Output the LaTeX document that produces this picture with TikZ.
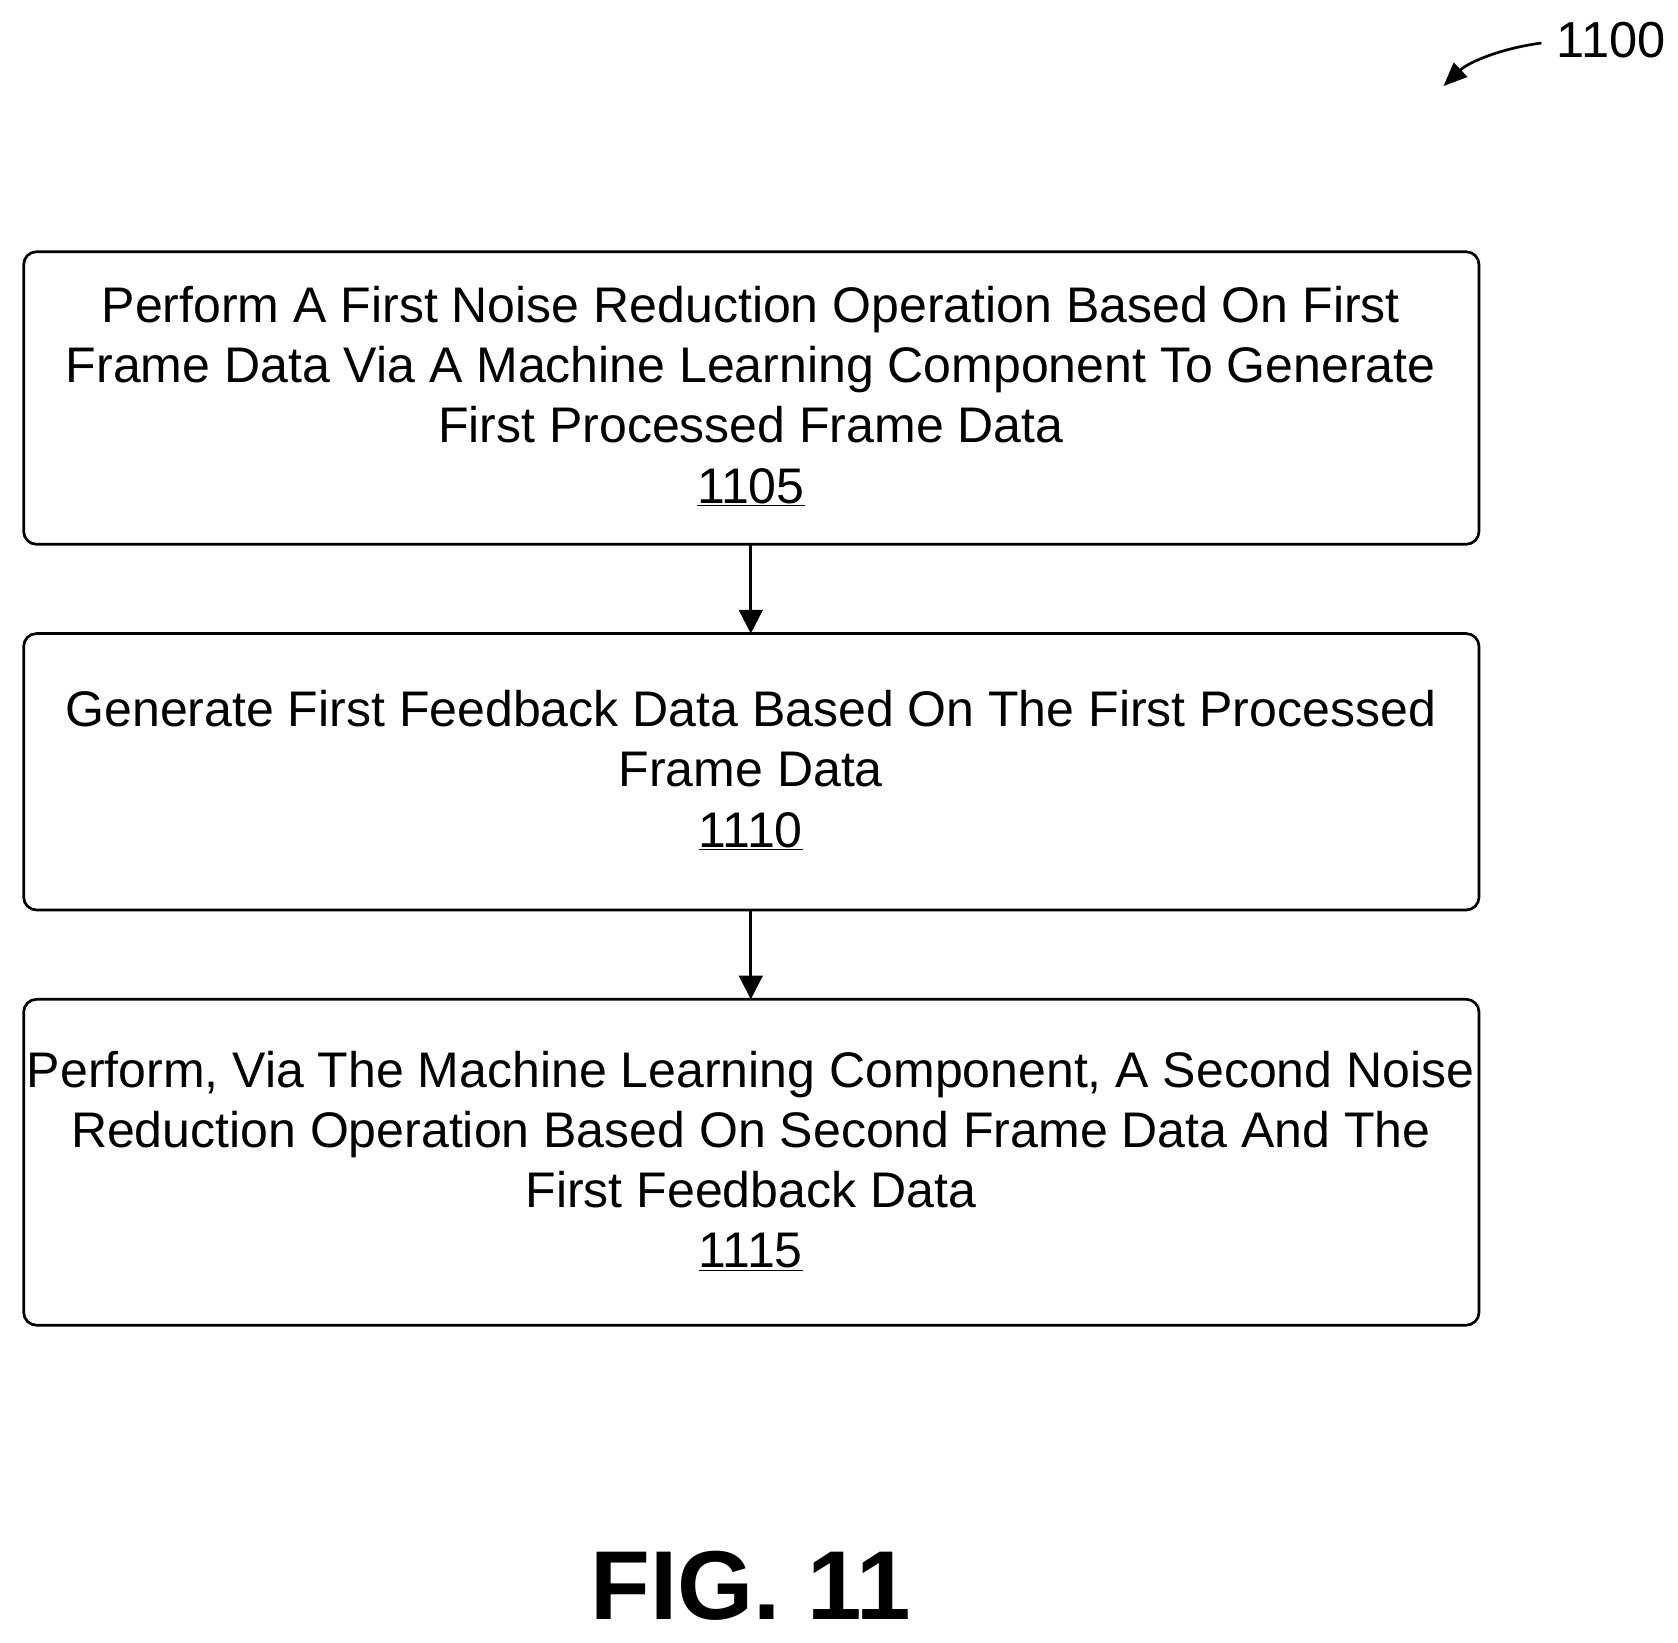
\documentclass[tikz,border=0pt]{standalone}
\usepackage{fontspec}
\setmainfont{Liberation Sans}
\usetikzlibrary{arrows.meta}
\begin{document}
\begin{tikzpicture}[x=1pt,y=-1pt,
 box/.style={draw,line width=2.5pt,rounded corners=12pt},
 txt/.style={align=center,font=\fontsize{46.5}{56}\selectfont},
 arr/.style={line width=2.5pt,-{Triangle[length=22pt,width=22pt]}}]
\useasboundingbox (0,0) rectangle (1560,1527);
\draw[box] (22,234) rectangle (1375,506);
\draw[box] (22,589) rectangle (1375,846);
\draw[box] (22,929) rectangle (1375,1232);
\node[txt] (t1) at (698,368) {Perform A First Noise Reduction Operation Based On First\\Frame Data Via A Machine Learning Component To Generate\\First Processed Frame Data\\\underline{1105}};
\node[txt] (t2) at (698,716) {Generate First Feedback Data Based On The First Processed\\Frame Data\\\underline{1110}};
\node[txt] (t3) at (698,1079) {Perform, Via The Machine Learning Component, A Second Noise\\Reduction Operation Based On Second Frame Data And The\\First Feedback Data\\\underline{1115}};
\coordinate (b1) at (698,506); \coordinate (a2) at (698,589);
\coordinate (b2) at (698,846); \coordinate (a3) at (698,929);
\draw[arr] (b1) -- (a2);
\draw[arr] (b2) -- (a3);
\node[font=\fontsize{47}{52}\selectfont] (n) at (1498,37) {1100};
\coordinate (e) at (1342,80);
\draw[line width=2.5pt,-{Triangle[length=22pt,width=18pt]}] (1433,40) .. controls (1395,45) and (1365,58) .. (e);
\node[font=\bfseries\fontsize{91}{94}\selectfont] (f) at (698,1474) {FIG. 11};
\end{tikzpicture}
\end{document}
